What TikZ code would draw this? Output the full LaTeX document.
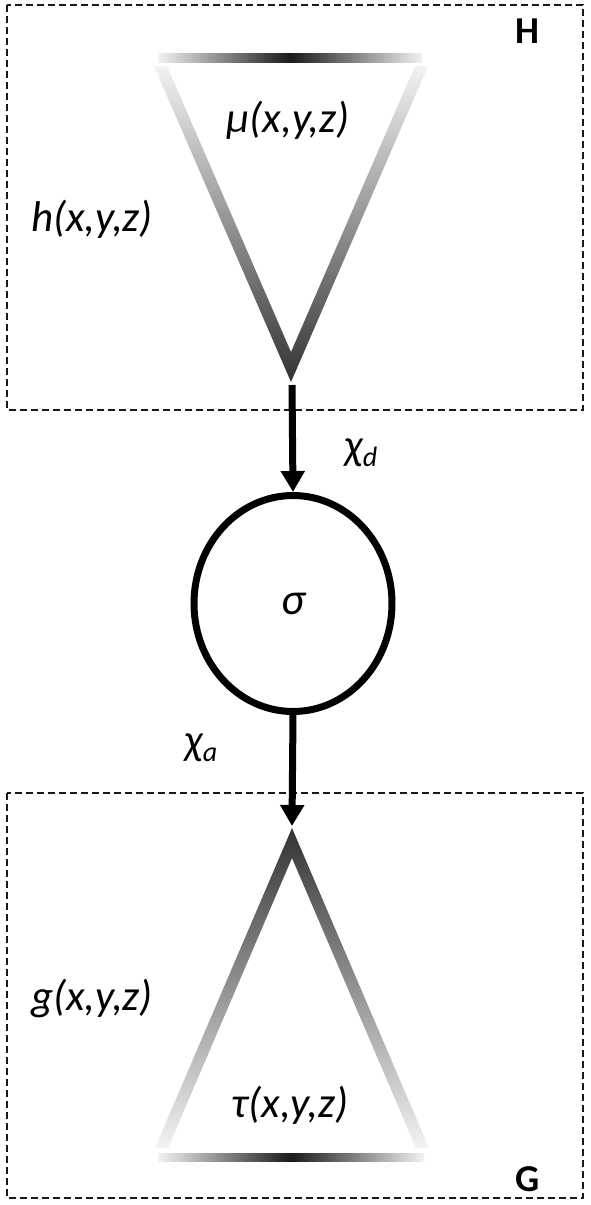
\documentclass[tikz,border=0pt]{standalone}
\usepackage{fontspec}
\setmainfont{Carlito}
\usetikzlibrary{arrows.meta,shapes.geometric}
\begin{document}
\begin{tikzpicture}[x=1pt,y=-1pt,
  frame/.style={draw=black!90, dash pattern=on 7pt off 4pt, line width=2.2pt},
  lbl/.style={font=\fontsize{43}{50}\selectfont\itshape, inner sep=0pt},
  boxlbl/.style={font=\fontsize{38}{44}\selectfont\bfseries, inner sep=0pt},
  flow/.style={line width=7pt, -{Triangle[length=21pt,width=23pt]}},
  bar/.style={left color=black!5, right color=black!5, middle color=black!90},
  topedge/.style={top color=black!5, bottom color=black!80},
  botedge/.style={top color=black!80, bottom color=black!5},
  proc/.style={ellipse, draw, line width=7pt, minimum width=198pt, minimum height=216pt, inner sep=0pt, font=\fontsize{45}{50}\selectfont\itshape}
]
\useasboundingbox (0,0) rectangle (591,1205);
\fill[white] (0,0) rectangle (591,1205);

% frames
\draw[frame] (7,5) rectangle (583,410);
\draw[frame] (7,793) rectangle (583,1198);
\node[boxlbl] (Hlbl) at (527,31) {H};
\node[boxlbl] (Glbl) at (528,1179) {G};

% top triangle (H)
\shade[bar] (158,53) rectangle (422,62);
\shade[topedge] (154,66) -- (291,382) -- (428,66) -- (415,66) -- (291,352) -- (167,66) -- cycle;
\coordinate (hApex) at (292,385);
\node[lbl] (mu) at (288,120) {μ(x,y,z)};
\node[lbl] (h) at (92,219) {h(x,y,z)};

% bottom triangle (G)
\shade[botedge] (155,1148) -- (292,828) -- (429,1148) -- (416,1148) -- (292,858) -- (168,1148) -- cycle;
\shade[bar] (158,1153) rectangle (424,1161);
\coordinate (gApex) at (292,826);
\node[lbl] (tau) at (290,1105) {τ(x,y,z)};
\node[lbl] (g) at (92,998) {g(x,y,z)};

% sigma
\node[proc] (sigma) at (293,603.5) {σ};

% connectors
\draw[flow] (hApex) -- (sigma.north);
\draw[flow] (sigma.south) -- (gApex);
\node[lbl] (chid) at (361,453) {χ\raisebox{-7pt}{\fontsize{28}{32}\selectfont d}};
\node[lbl] (chia) at (201,748) {χ\raisebox{-7pt}{\fontsize{28}{32}\selectfont a}};
\end{tikzpicture}
\end{document}
